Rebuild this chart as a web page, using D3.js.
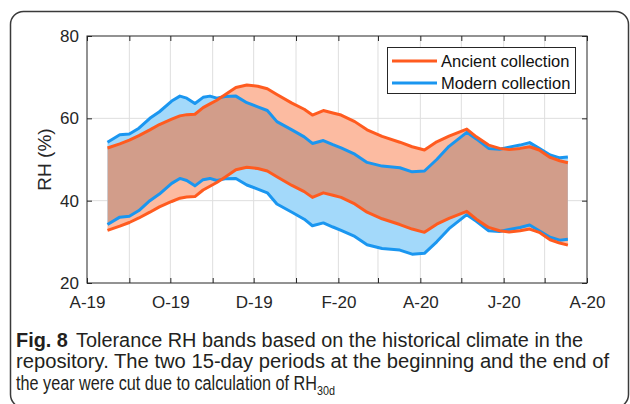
<!DOCTYPE html>
<html>
<head>
<meta charset="utf-8">
<script src="https://cdn.jsdelivr.net/npm/d3@7"></script>
<style>
  html, body { margin: 0; padding: 0; background: #fff; }
  svg { display: block; }
</style>
</head>
<body>
<svg id="chart" width="630" height="404"></svg>
<script>
// ---- data (RH %, 30-day tolerance bands) ----
var dates = ["2019-08-16","2019-08-25","2019-09-01","2019-09-08","2019-09-16","2019-09-23",
  "2019-10-02","2019-10-08","2019-10-13","2019-10-19","2019-10-25","2019-10-30","2019-11-04",
  "2019-11-10","2019-11-18","2019-11-26","2019-12-04","2019-12-11","2019-12-18","2019-12-29",
  "2020-01-07","2020-01-13","2020-01-21","2020-01-28","2020-02-03","2020-02-13","2020-02-22",
  "2020-03-04","2020-03-17","2020-03-26","2020-04-04","2020-04-13","2020-04-22","2020-05-05",
  "2020-05-12","2020-05-21","2020-05-29","2020-06-05","2020-06-13","2020-06-20","2020-06-27",
  "2020-07-05","2020-07-12","2020-07-18"];

var ancientUpper = [52.8,53.8,54.7,55.8,57.2,58.5,59.8,60.6,60.9,61.0,62.6,63.5,64.4,65.7,67.5,68.1,
  67.8,67.2,65.8,63.7,62.2,60.8,61.9,61.3,60.8,59.2,57.2,55.6,54.2,53.1,52.3,54.3,55.7,57.4,
  55.5,53.5,52.7,52.4,52.7,53.1,52.3,50.5,49.7,49.2];
var ancientLower = [32.8,33.8,34.7,35.8,37.2,38.5,39.8,40.6,40.9,41.0,42.6,43.5,44.4,45.7,47.5,48.1,
  47.8,47.2,45.8,43.7,42.2,40.8,41.9,41.3,40.8,39.2,37.2,35.6,34.2,33.1,32.3,34.3,35.7,37.4,
  35.5,33.5,32.7,32.4,32.7,33.1,32.3,30.5,29.7,29.2];
var modernUpper = [54.2,56.0,56.2,57.6,60.0,61.6,64.2,65.4,64.9,63.6,65.1,65.4,64.9,65.3,65.4,63.8,
  62.8,61.9,59.2,57.2,55.5,53.9,54.6,53.6,52.8,51.3,49.3,48.4,48.0,47.0,47.2,50.0,53.2,56.6,
  55.0,52.7,52.5,53.0,53.5,54.1,52.7,51.1,50.4,50.6];
var modernLower = [34.2,36.0,36.2,37.6,40.0,41.6,44.2,45.4,44.9,43.6,45.1,45.4,44.9,45.3,45.4,43.8,
  42.8,41.9,39.2,37.2,35.5,33.9,34.6,33.6,32.8,31.3,29.3,28.4,28.0,27.0,27.2,30.0,33.2,36.6,
  35.0,32.7,32.5,33.0,33.5,34.1,32.7,31.1,30.4,30.6];

var yTicks = [20, 40, 60, 80];
var xTickLabels = ["A-19","O-19","D-19","F-20","A-20","J-20","A-20"];
var seriesNames = ["Ancient collection", "Modern collection"];

var parse = d3.timeParse("%Y-%m-%d");
var days = dates.map(parse);

var col = {
  ancient: "#ff5b1f", modern: "#1a96f0",
  ancientFill: "#fcbba1", modernFill: "#a3d9fa", both: "#d29d8a",
  axis: "#262626", grid: "#dedede"
};

var svg = d3.select("#chart");

// card outline
svg.append("rect")
  .attr("x", 10.5).attr("y", 11.5)
  .attr("width", 618).attr("height", 396)
  .attr("rx", 13).attr("ry", 13)
  .attr("fill", "none").attr("stroke", "#3a3a3a").attr("stroke-width", 1.5);

// plot area
var pLeft = 87, pTop = 36, pRight = 587, pBottom = 283;

var x = d3.scaleTime()
  .domain([new Date(2019, 7, 1), new Date(2020, 7, 1)])
  .range([pLeft, pRight]);
var y = d3.scaleLinear().domain([20, 80]).range([pBottom, pTop]);

var months = d3.timeMonth.range(new Date(2019, 7, 1), new Date(2020, 7, 2));

// grid
var grid = svg.append("g");
grid.selectAll(".gx").data(months.slice(1, -1)).enter().append("line")
  .attr("x1", function(d){ return x(d); }).attr("x2", function(d){ return x(d); })
  .attr("y1", pTop).attr("y2", pBottom)
  .attr("stroke", col.grid).attr("stroke-width", 1);
grid.selectAll(".gy").data(yTicks.slice(1, -1)).enter().append("line")
  .attr("x1", pLeft).attr("x2", pRight)
  .attr("y1", function(d){ return y(d); }).attr("y2", function(d){ return y(d); })
  .attr("stroke", col.grid).attr("stroke-width", 1);

// bands
var band = function(up, lo) {
  return d3.area()
    .x(function(d, i){ return x(days[i]); })
    .y0(function(d, i){ return y(lo[i]); })
    .y1(function(d, i){ return y(up[i]); });
};
var ancientArea = band(ancientUpper, ancientLower)(dates);
var modernArea = band(modernUpper, modernLower)(dates);

svg.append("clipPath").attr("id", "modernClip")
  .append("path").attr("d", modernArea);

svg.append("path").attr("d", ancientArea).attr("fill", col.ancientFill);
svg.append("path").attr("d", modernArea).attr("fill", col.modernFill);
svg.append("path").attr("d", ancientArea).attr("fill", col.both)
  .attr("clip-path", "url(#modernClip)");

// band edges
var edge = function(vals) {
  return d3.line()
    .x(function(d, i){ return x(days[i]); })
    .y(function(d, i){ return y(vals[i]); })(dates);
};
[[modernUpper, col.modern], [modernLower, col.modern],
 [ancientUpper, col.ancient], [ancientLower, col.ancient]].forEach(function(s){
  svg.append("path").attr("d", edge(s[0]))
    .attr("fill", "none").attr("stroke", s[1]).attr("stroke-width", 3)
    .attr("stroke-linejoin", "round");
});

// axes box
svg.append("rect")
  .attr("x", pLeft).attr("y", pTop)
  .attr("width", pRight - pLeft).attr("height", pBottom - pTop)
  .attr("fill", "none").attr("stroke", col.axis).attr("stroke-width", 1);

var xAxis = d3.axisBottom(x)
  .tickValues(months)
  .tickSize(-5)
  .tickPadding(13)
  .tickFormat(function(d, i){ return i % 2 === 0 ? xTickLabels[i / 2] : ""; });
var gx = svg.append("g").attr("transform", "translate(0," + pBottom + ")").call(xAxis);

var xTop = d3.axisTop(x).tickValues(months).tickSize(-5).tickFormat("");
var gxt = svg.append("g").attr("transform", "translate(0," + pTop + ")").call(xTop);

var yAxis = d3.axisLeft(y).tickValues(yTicks).tickSize(-5).tickPadding(8);
var gy = svg.append("g").attr("transform", "translate(" + pLeft + ",0)").call(yAxis);

var yRight = d3.axisRight(y).tickValues(yTicks).tickSize(-5).tickFormat("");
var gyr = svg.append("g").attr("transform", "translate(" + pRight + ",0)").call(yRight);

[gx, gxt, gy, gyr].forEach(function(g){
  g.select(".domain").remove();
  g.selectAll(".tick line").attr("stroke", col.axis);
  g.selectAll("text")
    .attr("fill", col.axis)
    .style("font-family", "'Liberation Sans', Arial, sans-serif")
    .style("font-size", "17px");
});

svg.append("text")
  .attr("transform", "translate(51," + ((pTop + pBottom) / 2) + ") rotate(-90)")
  .attr("text-anchor", "middle")
  .attr("fill", col.axis)
  .style("font-family", "'Liberation Sans', Arial, sans-serif")
  .style("font-size", "19px")
  .text("RH (%)");

// legend
var lg = svg.append("g");
lg.append("rect").attr("x", 387.5).attr("y", 47.5).attr("width", 188).attr("height", 46)
  .attr("fill", "#fff").attr("stroke", col.axis).attr("stroke-width", 1);
seriesNames.forEach(function(name, i){
  var yy = 61 + i * 22;
  lg.append("line").attr("x1", 392).attr("x2", 437).attr("y1", yy).attr("y2", yy)
    .attr("stroke", i === 0 ? col.ancient : col.modern).attr("stroke-width", 3);
  lg.append("text").attr("x", 441).attr("y", yy + 6)
    .attr("fill", "#111")
    .style("font-family", "'Liberation Sans', Arial, sans-serif")
    .style("font-size", "16.5px")
    .text(name);
});

// caption
var cap = svg.append("g")
  .attr("fill", "#231f20")
  .style("font-family", "'Liberation Sans Narrow', 'Liberation Sans', sans-serif")
  .style("font-size", "19.5px");
var l1 = cap.append("text").attr("x", 16).attr("y", 346.5)
  .attr("textLength", 567).attr("lengthAdjust", "spacingAndGlyphs");
l1.append("tspan").attr("font-weight", "bold").text("Fig. 8");
l1.append("tspan").attr("dx", 8).text("Tolerance RH bands based on the historical climate in the");
cap.append("text").attr("x", 16).attr("y", 368)
  .attr("textLength", 593).attr("lengthAdjust", "spacingAndGlyphs")
  .text("repository. The two 15-day periods at the beginning and the end of");
var l3 = cap.append("text").attr("x", 16).attr("y", 389.5)
  .attr("textLength", 319).attr("lengthAdjust", "spacingAndGlyphs");
l3.append("tspan").text("the year were cut due to calculation of RH");
l3.append("tspan").attr("dy", 5.5).style("font-size", "13px").text("30d");
</script>
</body>
</html>
